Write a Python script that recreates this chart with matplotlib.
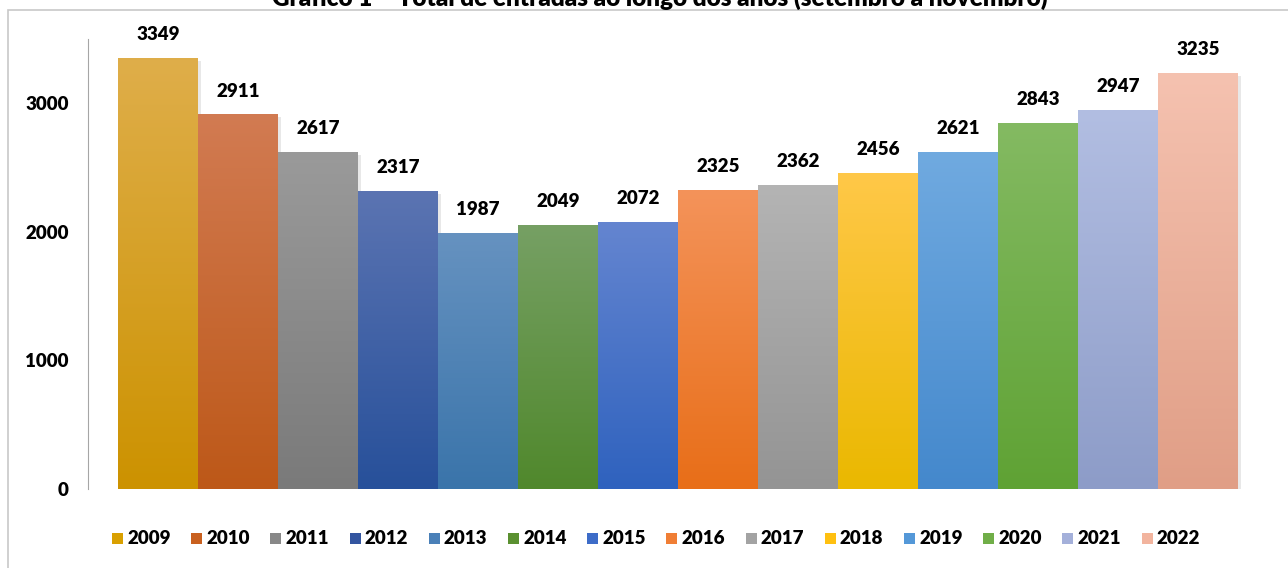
import numpy as np
import matplotlib
matplotlib.use("Agg")
import matplotlib.pyplot as plt
from matplotlib.colors import LinearSegmentedColormap
from matplotlib.patches import Rectangle

plt.rcParams['font.family'] = ['Lato', 'DejaVu Sans']
plt.rcParams['font.weight'] = 'heavy'

# data
years = ['2009', '2010', '2011', '2012', '2013', '2014', '2015',
         '2016', '2017', '2018', '2019', '2020', '2021', '2022']
entradas = [3349, 2911, 2617, 2317, 1987, 2049, 2072,
            2325, 2362, 2456, 2621, 2843, 2947, 3235]
top_colors = ['#DFAE4A', '#D27B52', '#9A9A9A', '#5B74B2', '#6692C0',
              '#76A064', '#6485D0', '#F4935A', '#B4B4B4', '#FFC848',
              '#70AAE0', '#84BA62', '#B2BEE2', '#F5C2B0']
bottom_colors = ['#CC9200', '#BD5818', '#7A7A7A', '#27509A', '#3A74AA',
                 '#50882C', '#2F62BE', '#E86E18', '#949494', '#EAB800',
                 '#4488CC', '#5FA234', '#8D9CC8', '#E09E86']
legend_colors = ['#D9A000', '#C9601F', '#888888', '#3355A0', '#4A80B8',
                 '#5A9030', '#3D6CC8', '#F07E35', '#A3A3A3', '#FFC010',
                 '#5498D8', '#70AE48', '#A4B0DA', '#F2B49E']
title = 'Gráfico 1 – Total de entradas ao longo dos anos (setembro a novembro)'

W, H = 1288, 568
fig = plt.figure(figsize=(W / 100, H / 100), dpi=100)

# outer chart frame (top and left edges visible)
fig.patches.append(Rectangle((8 / W, -0.1), 1.2, (H - 10) / H + 0.1,
                             transform=fig.transFigure, fill=False,
                             edgecolor='#C8C8C8', linewidth=1.2))

ax = fig.add_axes([88 / W, 79 / H, (1268 - 88) / W, (529 - 79) / H])

grad = np.linspace(0, 1, 256).reshape(-1, 1)
for i, v in enumerate(entradas):
    # soft shadow
    ax.add_patch(Rectangle((i - 0.5 + 0.04, -20), 1, v, facecolor='#000000',
                           alpha=0.09, linewidth=0, zorder=1))
    cmap = LinearSegmentedColormap.from_list('g%d' % i,
                                             [bottom_colors[i], top_colors[i]])
    ax.imshow(grad, cmap=cmap, aspect='auto', origin='lower',
              extent=(i - 0.5, i + 0.5, 0, v), interpolation='bicubic',
              zorder=2)
    ax.annotate(str(v), (i, v), xytext=(0, 17), textcoords='offset points',
                ha='center', va='center', fontsize=13.5, fontweight='heavy')

ax.set_xlim(-0.875, 13.875)
ax.set_ylim(0, 3500)
ax.set_yticks([0, 1000, 2000, 3000])
ax.set_xticks([])
ax.tick_params(axis='y', length=0, pad=14, labelsize=13.5)
for lab in ax.get_yticklabels():
    lab.set_fontweight('heavy')
for s in ['top', 'right', 'bottom']:
    ax.spines[s].set_visible(False)
ax.spines['left'].set_color('#A6A6A6')
ax.patch.set_alpha(0)

# legend row
for i, yr in enumerate(years):
    x0 = 112 + i * 79.2
    fig.patches.append(Rectangle((x0 / W, (H - 544) / H), 11 / W, 11 / H,
                                 transform=fig.transFigure,
                                 facecolor=legend_colors[i], linewidth=0))
    fig.text((x0 + 15) / W, (H - 538.5) / H, yr, ha='left', va='center',
             fontsize=13.5, fontweight='heavy')

# title, partly cut off by the top edge as in the source
fig.text(660 / W, (H - 6) / H, title, ha='center', va='baseline',
         fontsize=17.5, fontweight='heavy')

fig.savefig('out.png', dpi=100)
